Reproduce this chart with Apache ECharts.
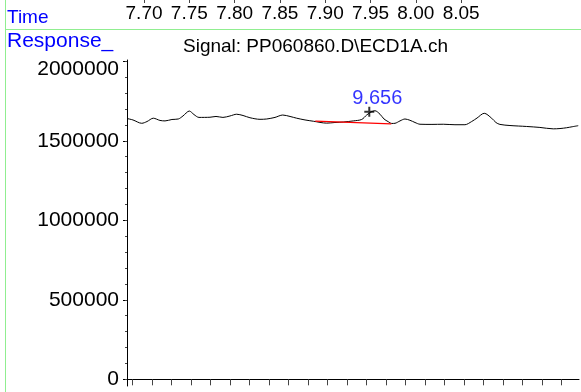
<!DOCTYPE html>
<html><head><meta charset="utf-8">
<script src="https://cdn.jsdelivr.net/npm/echarts@6/dist/echarts.min.js"></script>
<style>html,body{margin:0;padding:0;background:#fff;overflow:hidden}#c{width:581px;height:392px}</style>
</head><body><div id="c"></div>
<script>
// ---- data ----
const retentionTimes = [
  9.4075, 9.4136, 9.4226, 9.4280, 9.4345, 9.4413, 9.4465, 9.4536, 9.4601, 9.4649,
  9.4714, 9.4762, 9.4813, 9.4926, 9.4988, 9.5059, 9.5131, 9.5200, 9.5265, 9.5336,
  9.5439, 9.5508, 9.5593, 9.5672, 9.5747, 9.5815, 9.5901, 9.5986, 9.6123, 9.6208,
  9.6293, 9.6396, 9.6482, 9.6533, 9.6577, 9.6618, 9.6670, 9.6711, 9.6755, 9.6790,
  9.6824, 9.6875, 9.6926, 9.6977, 9.7029, 9.7080, 9.7203, 9.7319, 9.7439, 9.7541,
  9.7610, 9.7665, 9.7739, 9.7815, 9.7859, 9.7900, 9.8003, 9.8174, 9.8310, 9.8447,
  9.8516, 9.8584, 9.8639, 9.8703
];
const responseValues = [
  1640000, 1631000, 1610000, 1621000, 1642000, 1628000, 1625000, 1634000, 1637000, 1656000,
  1687000, 1665000, 1647000, 1648000, 1653000, 1647000, 1656000, 1667000, 1659000, 1645000,
  1635000, 1637000, 1647000, 1662000, 1653000, 1642000, 1631000, 1623000, 1611000, 1615000,
  1618000, 1625000, 1634000, 1662000, 1681000, 1689000, 1667000, 1637000, 1620000, 1609000,
  1610000, 1625000, 1637000, 1629000, 1615000, 1604000, 1603000, 1604000, 1601000, 1601000,
  1621000, 1643000, 1673000, 1642000, 1615000, 1603000, 1596000, 1590000, 1584000, 1575000,
  1577000, 1582000, 1588000, 1595000
];
const baselineTimes = [9.6006, 9.6786];
const baselineValues = [1623000, 1606000];
const peakTime = 9.656;
const peakResponse = 1683000;
const peakLabel = '9.656';
const yTickLabels = [0, 500000, 1000000, 1500000, 2000000];
const yMinorTicks = [0,100000,200000,300000,400000,500000,600000,700000,800000,900000,1000000,
  1100000,1200000,1300000,1400000,1500000,1600000,1700000,1800000,1900000,2000000];
const topTimeLabels = [7.70, 7.75, 7.80, 7.85, 7.90, 7.95, 8.00, 8.05];
const bottomTicks = [9.4133, 9.4333, 9.4533, 9.4733, 9.4933, 9.5133, 9.5333, 9.5533, 9.5733, 9.5933,
  9.6133, 9.6333, 9.6533, 9.6733, 9.6933, 9.7133, 9.7333, 9.7533, 9.7733, 9.7933, 9.8133, 9.8333, 9.8533];
const titleText = 'Signal: PP060860.D\\ECD1A.ch';
const topAxisName = 'Time';
const yAxisName = 'Response_';

// ---- chart ----
const FONT = "'Liberation Sans', Arial, sans-serif";
const BLUE = '#0000ff';
const GREEN = '#90ee90';
const chart = echarts.init(document.getElementById('c'), null, {renderer: 'canvas'});
const trace = retentionTimes.map((t, i) => [t, responseValues[i]]);
const baseline = baselineTimes.map((t, i) => [t, baselineValues[i]]);

chart.setOption({
  animation: false,
  backgroundColor: '#fff',
  textStyle: {fontFamily: FONT},
  title: {
    text: titleText, left: 178, top: 32,
    textStyle: {fontFamily: FONT, fontSize: 19, fontWeight: 'normal', color: '#000'}
  },
  grid: [
    {left: 127, right: 2, top: 60, bottom: 6},
    {left: 127, right: 2, top: 0, height: 3}
  ],
  xAxis: [
    {
      gridIndex: 0, type: 'value', min: 9.4075, max: 9.8711,
      axisLine: {show: true, lineStyle: {color: '#000', width: 1}},
      axisTick: {show: true, customValues: bottomTicks, length: 6, lineStyle: {color: '#444'}},
      axisLabel: {show: false}, splitLine: {show: false}
    },
    {
      gridIndex: 1, type: 'value', position: 'bottom', min: 7.6812, max: 8.1801,
      axisLine: {show: false},
      axisTick: {show: true, inside: true, customValues: topTimeLabels, length: 3, lineStyle: {color: '#444'}},
      axisLabel: {show: true, customValues: topTimeLabels, margin: 1, fontSize: 19, color: '#000', fontFamily: FONT,
        formatter: v => v.toFixed(2)},
      splitLine: {show: false}
    }
  ],
  yAxis: [
    {
      gridIndex: 0, type: 'value', position: 'left', min: -42000, max: 2008000,
      axisLine: {show: true, lineStyle: {color: '#000', width: 1}},
      axisTick: {show: true, customValues: yTickLabels, length: 4, lineStyle: {color: '#000'}},
      axisLabel: {show: true, customValues: yTickLabels, margin: 8, fontSize: 21, color: '#000', fontFamily: FONT,
        formatter: v => v === 2000000 ? '{top|' + v + '}' : String(v),
        rich: {top: {fontSize: 21, fontFamily: FONT, color: '#000', padding: [15, 0, 0, 0]}}},
      splitLine: {show: false}
    },
    {
      gridIndex: 0, type: 'value', position: 'left', offset: 0, min: -42000, max: 2008000,
      axisLine: {show: false},
      axisTick: {show: true, customValues: yMinorTicks, length: 2, lineStyle: {color: '#444'}},
      axisLabel: {show: false}, splitLine: {show: false}
    },
    {gridIndex: 1, type: 'value', show: false}
  ],
  series: [
    {
      type: 'line', xAxisIndex: 0, yAxisIndex: 0, data: trace, showSymbol: false, smooth: 0.3,
      lineStyle: {color: '#000', width: 1}, silent: true
    },
    {
      type: 'line', xAxisIndex: 0, yAxisIndex: 0, data: baseline, showSymbol: false,
      lineStyle: {color: '#ff0000', width: 1.2}, silent: true
    },
    {
      type: 'scatter', xAxisIndex: 0, yAxisIndex: 0, data: [[peakTime, peakResponse]],
      symbol: 'path://M4,0H6V10H4Z M0,4H10V6H0Z', symbolSize: 10,
      itemStyle: {color: '#000'},
      label: {show: true, formatter: peakLabel, position: 'top', distance: 0, offset: [8, 2],
        color: BLUE, fontSize: 20, fontFamily: FONT},
      silent: true
    }
  ],
  graphic: [
    {type: 'line', shape: {x1: 5.5, y1: 0, x2: 5.5, y2: 392}, style: {stroke: GREEN, lineWidth: 1}},
    {type: 'line', shape: {x1: 5, y1: 29.5, x2: 581, y2: 29.5}, style: {stroke: GREEN, lineWidth: 1}},
    {type: 'text', left: 7, top: 8, style: {text: topAxisName, fill: BLUE, fontSize: 19, fontFamily: FONT}},
    {type: 'text', left: 7, top: 31, style: {text: yAxisName, fill: BLUE, fontSize: 21, fontFamily: FONT}}
  ]
});
</script>
</body></html>
